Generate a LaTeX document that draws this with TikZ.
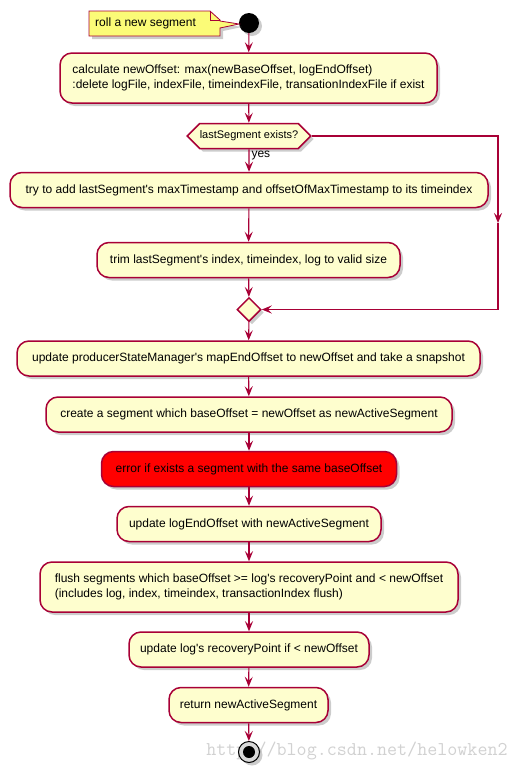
\documentclass[tikz,border=0pt]{standalone}
\usepackage{fontspec}
\setmainfont{Liberation Sans}
\usetikzlibrary{arrows.meta,shapes.geometric,shapes.symbols,shadows}
\definecolor{umlred}{HTML}{A80036}
\definecolor{umlfill}{HTML}{FEFECE}
\definecolor{notefill}{HTML}{FBFB77}
\newcommand{\q}{\textquotesingle}
\begin{document}
\begin{tikzpicture}[
    x=1pt, y=-1pt,
    font=\fontsize{12}{15}\selectfont,
    shade/.style={drop shadow={shadow xshift=3pt, shadow yshift=-3pt, fill=black!40, opacity=0.5}},
    act/.style={draw=umlred, line width=1.5pt, fill=umlfill, rounded corners=12pt, minimum height=35pt, inner sep=0pt, shade},
    errbox/.style={act, fill=red},
    decision/.style={signal, signal to=west and east, signal pointer angle=90, draw=umlred, line width=1.5pt, fill=umlfill, minimum height=25pt, inner sep=0pt, font=\fontsize{11}{13}\selectfont, shade},
    merger/.style={diamond, draw=umlred, line width=1.5pt, fill=umlfill, minimum width=24pt, minimum height=24pt, inner sep=0pt, shade},
    notebox/.style={draw=umlred, line width=0.8pt, fill=notefill, shade},
    arr/.style={draw=umlred, line width=1.1pt, -{Stealth[length=10pt, width=8pt, inset=4pt]}}
]
\useasboundingbox (0,0) rectangle (523,772);

% Watermark
\node[text=black!18, font=\fontsize{19.5}{20}\selectfont\ttfamily] (mark) at (357,751) {http://blog.csdn.net/helowken2};

% Start and note
\node[circle, fill=black, minimum size=20pt, inner sep=0pt, shade] (start) at (249,23) {};
\draw[notebox] (89,11) -- (210,11) -- (220,20) -- (220,21) -- (239,24) -- (220,28) -- (220,36) -- (89,36) -- cycle;
\draw[draw=umlred, line width=0.8pt] (210,11) -- (210,20) -- (220,20);
\node[anchor=west, inner sep=0pt] (note) at (95,23) {roll a new segment};

% Actions
\node[act, minimum width=377pt, minimum height=50pt, align=left] (calc) at (248.5,78) {calculate newOffset: max(newBaseOffset, logEndOffset)\\:delete logFile, indexFile, timeindexFile, transationIndexFile if exist};
\node[decision, minimum width=122pt] (dec) at (249,136) {lastSegment exists?};
\node[act, minimum width=478pt] (try) at (249,190) {try to add lastSegment\q s maxTimestamp and offsetOfMaxTimestamp to its timeindex};
\node[act, minimum width=303pt] (trim) at (248.5,260) {trim lastSegment\q s index, timeindex, log to valid size};
\node[merger] (merge) at (249,309.5) {};
\node[act, minimum width=463pt] (prod) at (248.5,358.5) {update producerStateManager\q s mapEndOffset to newOffset and take a snapshot};
\node[act, minimum width=406pt] (create) at (249,414.5) {create a segment which baseOffset = newOffset as newActiveSegment};
\node[errbox, minimum width=295pt] (err) at (249,469) {error if exists a segment with the same baseOffset};
\node[act, minimum width=264pt] (leo) at (249,524) {update logEndOffset with newActiveSegment};
\node[act, minimum width=418pt, minimum height=50pt, align=left] (flush) at (249,587) {flush segments which baseOffset >= log\q s recoveryPoint and < newOffset\\(includes log, index, timeindex, transactionIndex flush)};
\node[act, minimum width=240pt] (rp) at (249,649.5) {update log\q s recoveryPoint if < newOffset};
\node[act, minimum width=159pt] (ret) at (248.5,705) {return newActiveSegment};

% Stop
\node[circle, draw=black, line width=1pt, fill=black!15, minimum size=21pt, inner sep=0pt, shade] (stop) at (249,752) {};
\node[circle, fill=black, minimum size=12pt, inner sep=0pt] (stopin) at (249,752) {};

% Connectors
\coordinate (turn) at (498,223);
\draw[arr] (start) -- (calc);
\draw[arr] (calc) -- (dec);
\draw[arr] (dec) -- node[pos=0.3, anchor=west, inner sep=2pt] {yes} (try);
\draw[arr] (try) -- (trim);
\draw[arr] (trim) -- (merge);
\draw[arr] (dec.east) -| (turn);
\draw[arr] (turn) |- (merge.east);
\draw[arr] (merge) -- (prod);
\draw[arr] (prod) -- (create);
\draw[arr] (create) -- (err);
\draw[arr] (err) -- (leo);
\draw[arr] (leo) -- (flush);
\draw[arr] (flush) -- (rp);
\draw[arr] (rp) -- (ret);
\draw[arr] (ret) -- (stop);

\end{tikzpicture}
\end{document}
